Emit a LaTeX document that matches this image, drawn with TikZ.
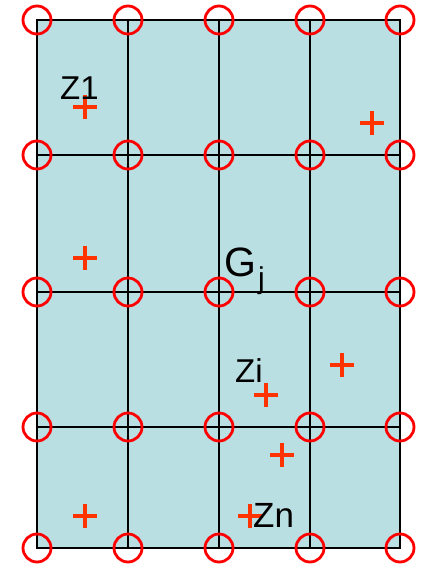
\documentclass[tikz,border=0pt]{standalone}
\usepackage{fontspec}
\setmainfont{Liberation Sans}
\begin{document}
\begin{tikzpicture}[x=1pt,y=-1pt,
  gridline/.style={line width=1.8pt,black},
  frame/.style={line width=2.4pt,black},
  node ring/.style={circle,draw=ringred,line width=2.8pt,minimum size=28pt,inner sep=0pt},
  samplept/.style={draw=ptred,line width=3.4pt},
  lbl/.style={anchor=base west,inner sep=0pt,font=\fontsize{33}{38}\selectfont},
]
\definecolor{cellfill}{RGB}{186,223,226}
\definecolor{ringred}{RGB}{255,0,0}
\definecolor{ptred}{RGB}{255,51,0}
\useasboundingbox (0,0) rectangle (420,567);

% cells
\fill[cellfill] (37,20) rectangle (400,548);
% interior grid lines
\foreach \x in {128,219,310} \draw[gridline] (\x,20) -- (\x,548);
\foreach \y in {155,292,427} \draw[gridline] (37,\y) -- (400,\y);
\draw[frame] (37,20) rectangle (400,548);

% grid nodes
\foreach \x [count=\i] in {37,128,219,310,400}
  \foreach \y [count=\j] in {20,155,292,427,548}
    \node[node ring] (n-\i-\j) at (\x,\y) {};

% sample points
\foreach \px/\py [count=\k] in {85/107,372/123,85/258,342/365,266/395,282/455,250/516,85/516}{
  \coordinate (p\k) at (\px,\py);
  \draw[samplept] ([xshift=-12pt]p\k) -- ([xshift=12pt]p\k)
                  ([yshift=-12pt]p\k) -- ([yshift=12pt]p\k);
}

% labels
\node[lbl] (z1) at (60,100) {Z1};
\node[lbl] (zi) at (235,382) {Zi};
\node[lbl,font=\fontsize{35}{40}\selectfont] (zn) at (253,527) {Zn};
\node[lbl,font=\fontsize{41}{46}\selectfont] (g) at (224,276) {G};
\node[lbl,font=\fontsize{30}{34}\selectfont] (gj) at (258,288) {j};
\end{tikzpicture}
\end{document}
